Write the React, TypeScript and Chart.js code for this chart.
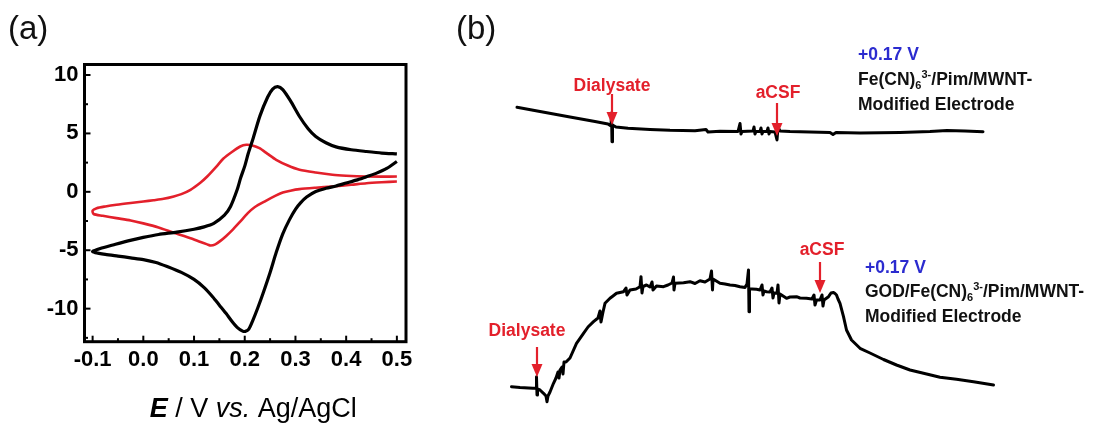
import React, { useEffect, useRef } from 'react';
import { Chart, registerables } from 'chart.js';

Chart.register(...registerables);

const FONT = '"Liberation Sans", Arial, Helvetica, sans-serif';
const RED = '#e3202b';
const BLUE = '#2b2bcf';

// ---- (a) cyclic voltammograms: potential (V vs. Ag/AgCl) and current (µA) ----
// each loop starts at the positive end of the anodic branch, runs to -0.1 V and back
const cv1Potential = [
  0.5, 0.47, 0.44, 0.41, 0.38, 0.36, 0.34, 0.325, 0.308, 0.29, 0.275, 0.265, 0.255, 0.245, 0.23,
  0.216, 0.207, 0.2, 0.192, 0.185, 0.172, 0.16, 0.139, 0.12, 0.1, 0.066, 0.03, 0.0, -0.03, -0.06,
  -0.085, -0.1,
  -0.095, -0.075, -0.05, -0.025, 0.0, 0.025, 0.047, 0.075, 0.1, 0.12, 0.137, 0.15, 0.163, 0.175,
  0.185, 0.195, 0.201, 0.208, 0.216, 0.226, 0.236, 0.25, 0.262, 0.275, 0.288, 0.3, 0.31, 0.322,
  0.34, 0.36, 0.38, 0.4, 0.42, 0.44, 0.46, 0.48, 0.5,
];
const cv1Current = [
  3.25, 3.32, 3.45, 3.6, 3.85, 4.2, 4.74, 5.4, 6.45, 7.8, 8.75, 9.0, 8.8, 8.1, 6.5,
  4.5, 3.3, 2.2, 1.2, 0.17, -1.26, -2.0, -2.7, -3.0, -3.2, -3.45, -3.65, -3.9, -4.2, -4.55,
  -4.85, -5.1,
  -5.2, -5.35, -5.5, -5.65, -5.8, -6.05, -6.4, -6.9, -7.5, -8.2, -9.0, -9.7, -10.4, -11.1,
  -11.6, -11.9, -11.95, -11.75, -11.0, -9.9, -8.7, -6.9, -5.2, -3.6, -2.4, -1.5, -0.95, -0.45,
  0.03, 0.3, 0.5, 0.75, 1.0, 1.3, 1.6, 2.0, 2.6,
];
const cv2Potential = [
  0.5, 0.47, 0.44, 0.4, 0.373, 0.34, 0.308, 0.285, 0.262, 0.245, 0.229, 0.215, 0.203, 0.191,
  0.176, 0.158, 0.145, 0.126, 0.113, 0.093, 0.075, 0.06, 0.04, 0.02, 0.0, -0.025, -0.053, -0.075,
  -0.092, -0.1,
  -0.098, -0.08, -0.053, -0.025, 0.0, 0.03, 0.06, 0.093, 0.113, 0.126, 0.133, 0.142, 0.152, 0.163,
  0.176, 0.19, 0.206, 0.22, 0.239, 0.26, 0.275, 0.29, 0.308, 0.34, 0.373, 0.41, 0.44, 0.47, 0.5,
];
const cv2Current = [
  1.31, 1.3, 1.31, 1.38, 1.46, 1.65, 1.89, 2.25, 2.74, 3.25, 3.74, 3.97, 4.03, 3.88,
  3.45, 2.85, 2.2, 1.31, 0.8, 0.17, -0.2, -0.4, -0.6, -0.72, -0.83, -0.95, -1.1, -1.25,
  -1.4, -1.6,
  -1.9, -2.05, -2.25, -2.45, -2.7, -3.05, -3.5, -3.97, -4.3, -4.5, -4.6, -4.5, -4.2, -3.8,
  -3.26, -2.6, -1.83, -1.3, -0.83, -0.35, -0.06, 0.1, 0.23, 0.35, 0.45, 0.6, 0.74, 0.82, 0.88,
];
const potentialTicks = [-0.1, 0.0, 0.1, 0.2, 0.3, 0.4, 0.5];
const currentTicks = [-10, -5, 0, 5, 10];

// ---- (b) amperometric responses at +0.17 V: time (s) and current (nA) ----
const topTime = [
  12, 58, 118, 168, 194, 200, 201, 202, 203, 210, 234, 278, 318, 368, 390, 394, 418, 454, 458,
  460, 462, 484, 486, 488, 490, 498, 500, 502, 504, 512, 514, 516, 518, 528, 532, 534, 538, 558,
  598, 638, 644, 650, 698, 778, 838, 872, 908, 944,
];
const topCurrent = [
  2.27, 1.85, 1.3, 0.85, 0.6, 0.4, 1.7, -1.17, 0.5, 0.3, 0.17, 0.05, -0.03, -0.07, 0.05, -0.2,
  -0.13, -0.15, 0.65, -0.4, -0.15, -0.1, 0.3, -0.4, -0.15, -0.15, 0.2, -0.4, -0.15, -0.15, 0.2,
  -0.4, -0.15, -0.2, -1.0, 0.3, -0.1, -0.15, -0.2, -0.25, -0.45, -0.25, -0.3, -0.25, -0.15, -0.05,
  -0.1, -0.17,
];
const bottomTime = [
  1, 18, 44, 50, 51, 52, 53, 58, 65, 70, 72, 74, 78, 85, 90, 94, 96, 98, 102, 104, 106, 110, 118,
  131, 145, 154, 165, 174, 178, 180, 184, 188, 198, 204, 211, 218, 225, 230, 232, 238, 250, 258,
  260, 262, 264, 271, 278, 282, 284, 291, 305, 314, 322, 325, 326, 328, 345, 358, 368, 378, 388,
  398, 401, 403, 404, 418, 428, 438, 448, 458, 468, 472, 475, 476, 477, 482, 491, 498, 502, 504,
  506, 511, 518, 522, 524, 526, 532, 534, 536, 538, 551, 558, 571, 578, 591, 602, 606, 608, 611,
  618, 622, 624, 626, 635, 640, 645, 648, 651, 654, 658, 665, 671, 681, 698, 718, 745, 771, 798,
  825, 858, 891, 925, 965,
];
const bottomCurrent = [
  0.13, 0.05, -0.03, 0.0, 1.13, -0.7, -0.1, -0.2, -0.53, -0.8, -1.37, -0.8, -0.4, 0.47, 1.0, 1.6,
  1.0, 1.8, 2.1, 1.4, 2.6, 2.6, 3.0, 4.47, 5.47, 6.1, 6.63, 7.0, 7.7, 6.6, 7.6, 8.47, 8.97, 9.2,
  9.47, 9.55, 9.63, 10.0, 9.3, 9.8, 9.9, 10.13, 11.13, 9.5, 10.15, 10.3, 10.1, 10.6, 9.8, 10.2,
  10.13, 10.3, 10.5, 11.1, 9.8, 10.47, 10.53, 10.63, 10.45, 10.73, 10.6, 10.9, 11.7, 9.8, 10.9,
  10.47, 10.4, 10.3, 10.25, 10.13, 10.05, 10.4, 11.8, 7.63, 9.9, 9.9, 9.87, 9.8, 10.3, 9.3, 9.7,
  9.63, 9.6, 10.0, 9.0, 9.5, 9.47, 10.3, 8.5, 9.4, 8.97, 9.1, 9.13, 9.0, 8.97, 8.9, 9.3, 8.3, 8.8,
  8.8, 9.3, 8.2, 8.8, 9.13, 9.5, 9.55, 9.45, 9.3, 8.9, 8.47, 7.13, 5.8, 4.8, 3.97, 3.5, 2.85, 2.3,
  1.8, 1.47, 1.07, 0.87, 0.63, 0.3,
];
// injection markers: time (s), current at the arrow tip (nA), label
const topMarkerTime = [202, 532];
const topMarkerCurrent = [0.5, -0.6];
const topMarkerLabel = ['Dialysate', 'aCSF'];
const bottomMarkerTime = [52, 618];
const bottomMarkerCurrent = [1.1, 9.5];
const bottomMarkerLabel = ['Dialysate', 'aCSF'];

// arrow geometry (px): shaft length, label baseline above the tip, label x shift
const topMarkerLayout = { shaft: [31, 33], lift: [34, 38], dx: [0, 1] };
const bottomMarkerLayout = { shaft: [30, 31], lift: [41, 38], dx: [-10, 2] };

const toPoints = (xs: number[], ys: number[]) => xs.map((x, i) => ({ x, y: ys[i] }));

// frame, inward ticks (major + minor) and mixed-style axis title for the CV plot
const cvFramePlugin = {
  id: 'cvFrame',
  afterDraw(chart: any) {
    const { ctx, chartArea, scales } = chart;
    const { left, right, top, bottom } = chartArea;
    const xs = scales.x;
    const ys = scales.y;
    ctx.save();
    ctx.strokeStyle = '#000';
    ctx.lineWidth = 3;
    ctx.strokeRect(left, top, right - left, bottom - top);
    ctx.lineWidth = 2;
    const tick = (x1: number, y1: number, x2: number, y2: number) => {
      ctx.beginPath();
      ctx.moveTo(x1, y1);
      ctx.lineTo(x2, y2);
      ctx.stroke();
    };
    potentialTicks.forEach((v, i) => {
      const px = xs.getPixelForValue(v);
      tick(px, bottom, px, bottom - 6);
      if (i < potentialTicks.length - 1) {
        const mx = xs.getPixelForValue((v + potentialTicks[i + 1]) / 2);
        tick(mx, bottom, mx, bottom - 3.5);
      }
    });
    currentTicks.forEach((v, i) => {
      const py = ys.getPixelForValue(v);
      tick(left, py, left + 6, py);
      if (i < currentTicks.length - 1) {
        const my = ys.getPixelForValue((v + currentTicks[i + 1]) / 2);
        tick(left, my, left + 3.5, my);
      }
    });
    const lowMinor = ys.getPixelForValue(currentTicks[0] - 2.5);
    if (lowMinor < bottom) tick(left, lowMinor, left + 3.5, lowMinor);

    // axis title: E / V vs. Ag/AgCl
    const size = 27;
    const parts = [
      { t: 'E', f: `italic bold ${size}px ${FONT}` },
      { t: ' / V ', f: `${size}px ${FONT}` },
      { t: 'vs.', f: `italic ${size}px ${FONT}` },
      { t: ' Ag/AgCl', f: `${size}px ${FONT}` },
    ];
    let total = 0;
    parts.forEach((p) => {
      ctx.font = p.f;
      total += ctx.measureText(p.t).width;
    });
    let x = (left + right) / 2 + 8 - total / 2;
    ctx.fillStyle = '#000';
    ctx.textBaseline = 'alphabetic';
    ctx.textAlign = 'left';
    parts.forEach((p) => {
      ctx.font = p.f;
      ctx.fillText(p.t, x, 417);
      x += ctx.measureText(p.t).width;
    });
    ctx.restore();
  },
};

// red injection arrows with labels
const markerPlugin = {
  id: 'markers',
  afterDatasetsDraw(chart: any) {
    const { ctx, scales } = chart;
    const groups = [
      { axis: 'yTop', t: topMarkerTime, c: topMarkerCurrent, l: topMarkerLabel, g: topMarkerLayout },
      { axis: 'yBottom', t: bottomMarkerTime, c: bottomMarkerCurrent, l: bottomMarkerLabel, g: bottomMarkerLayout },
    ];
    ctx.save();
    ctx.strokeStyle = RED;
    ctx.fillStyle = RED;
    groups.forEach((grp) => {
      grp.t.forEach((t, i) => {
        const x = scales.x.getPixelForValue(t);
        const tip = scales[grp.axis].getPixelForValue(grp.c[i]);
        const head = 13;
        ctx.lineWidth = 2.2;
        ctx.beginPath();
        ctx.moveTo(x, tip - grp.g.shaft[i]);
        ctx.lineTo(x, tip - head + 2);
        ctx.stroke();
        ctx.beginPath();
        ctx.moveTo(x - 5.5, tip - head);
        ctx.lineTo(x + 5.5, tip - head);
        ctx.lineTo(x, tip);
        ctx.closePath();
        ctx.fill();
        ctx.font = `bold 17.5px ${FONT}`;
        ctx.textAlign = 'center';
        ctx.textBaseline = 'alphabetic';
        ctx.fillText(grp.l[i], x + grp.g.dx[i], tip - grp.g.lift[i]);
      });
    });
    ctx.restore();
  },
};

function CVChart() {
  const ref = useRef<HTMLCanvasElement>(null);
  useEffect(() => {
    const tickFont = { family: FONT, size: 22, weight: 'bold' as const };
    const chart = new Chart(ref.current!, {
      type: 'scatter',
      data: {
        datasets: [
          {
            data: toPoints(cv1Potential, cv1Current),
            showLine: true,
            borderColor: '#000',
            borderWidth: 3.2,
            pointRadius: 0,
            tension: 0.25,
          },
          {
            data: toPoints(cv2Potential, cv2Current),
            showLine: true,
            borderColor: RED,
            borderWidth: 2.6,
            pointRadius: 0,
            tension: 0.25,
          },
        ],
      },
      options: {
        animation: false,
        responsive: false,
        maintainAspectRatio: false,
        layout: { padding: { top: 64.5, right: 34, left: 0, bottom: 0 } },
        plugins: { legend: { display: false }, tooltip: { enabled: false } },
        scales: {
          x: {
            type: 'linear',
            min: -0.116,
            max: 0.518,
            grid: { display: false, drawTicks: false },
            border: { display: false },
            ticks: {
              font: tickFont,
              color: '#000',
              padding: 5,
              maxRotation: 0,
              autoSkip: false,
              callback: (v: any) => Number(v).toFixed(1),
            },
            afterBuildTicks: (s: any) => {
              s.ticks = potentialTicks.map((value) => ({ value }));
            },
            afterFit: (s: any) => {
              s.height = 81.3;
            },
          },
          y: {
            type: 'linear',
            min: -12.83,
            max: 10.9,
            grid: { display: false, drawTicks: false },
            border: { display: false },
            ticks: {
              font: tickFont,
              color: '#000',
              padding: 6,
              autoSkip: false,
              callback: (v: any) => String(v),
            },
            afterBuildTicks: (s: any) => {
              s.ticks = currentTicks.map((value) => ({ value }));
            },
            afterFit: (s: any) => {
              s.width = 84.5;
            },
          },
        },
      },
      plugins: [cvFramePlugin],
    });
    return () => chart.destroy();
  }, []);
  return (
    <canvas
      ref={ref}
      width={440}
      height={423}
      style={{ position: 'absolute', left: 0, top: 0, width: 440, height: 423 }}
    />
  );
}

function TraceChart() {
  const ref = useRef<HTMLCanvasElement>(null);
  useEffect(() => {
    const common = {
      showLine: true,
      borderColor: '#000',
      borderWidth: 3,
      pointRadius: 0,
      tension: 0,
      borderJoinStyle: 'round' as const,
      borderCapStyle: 'round' as const,
    };
    const chart = new Chart(ref.current!, {
      type: 'scatter',
      data: {
        datasets: [
          { ...common, data: toPoints(topTime, topCurrent), yAxisID: 'yTop' },
          { ...common, data: toPoints(bottomTime, bottomCurrent), yAxisID: 'yBottom' },
        ],
      },
      options: {
        animation: false,
        responsive: false,
        maintainAspectRatio: false,
        layout: { padding: 0 },
        plugins: { legend: { display: false }, tooltip: { enabled: false } },
        scales: {
          x: { type: 'linear', min: -142, max: 1164, display: false },
          yTop: { type: 'linear', position: 'left', min: -29.3, max: 13, display: false },
          yBottom: { type: 'linear', position: 'left', min: -3.5, max: 38.8, display: false },
        },
      },
      plugins: [markerPlugin],
    });
    return () => chart.destroy();
  }, []);
  return (
    <canvas
      ref={ref}
      width={653}
      height={423}
      style={{ position: 'absolute', left: 440, top: 0, width: 653, height: 423 }}
    />
  );
}

const subStyle: React.CSSProperties = { fontSize: '11px', verticalAlign: '-4px', lineHeight: 0 };
const supStyle: React.CSSProperties = { fontSize: '11px', verticalAlign: '7px', lineHeight: 0 };

function ElectrodeNote({ left, top, lh, prefix }: { left: number; top: number; lh: number; prefix: string }) {
  return (
    <div
      style={{
        position: 'absolute',
        left,
        top,
        fontFamily: FONT,
        fontWeight: 'bold',
        fontSize: '17.5px',
        lineHeight: `${lh}px`,
        color: '#111',
        whiteSpace: 'nowrap',
      }}
    >
      <div style={{ color: BLUE }}>+0.17 V</div>
      <div>
        {prefix}Fe(CN)<span style={subStyle}>6</span>
        <span style={supStyle}>3-</span>/Pim/MWNT-
      </div>
      <div>Modified Electrode</div>
    </div>
  );
}

const panelLabel: React.CSSProperties = {
  position: 'absolute',
  fontFamily: FONT,
  fontSize: '33px',
  lineHeight: '33px',
  color: '#111',
};

export default function App() {
  return (
    <div
      style={{
        position: 'absolute',
        left: 0,
        top: 0,
        width: 1093,
        height: 423,
        overflow: 'hidden',
        background: '#fff',
      }}
    >
      <CVChart />
      <TraceChart />
      <div style={{ ...panelLabel, left: 8, top: 11 }}>(a)</div>
      <div style={{ ...panelLabel, left: 456, top: 11 }}>(b)</div>
      <ElectrodeNote left={858} top={42.4} lh={25} prefix="" />
      <ElectrodeNote left={865} top={254.7} lh={24.5} prefix="GOD/" />
    </div>
  );
}
